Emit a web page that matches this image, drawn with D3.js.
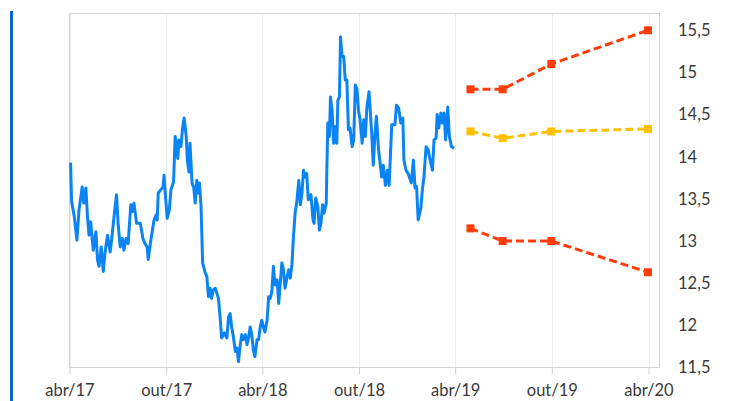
<!DOCTYPE html>
<html>
<head>
<meta charset="utf-8">
<script src="https://cdn.jsdelivr.net/npm/d3@7"></script>
<style>
  html, body { margin: 0; padding: 0; background: #fff; }
  svg { display: block; font-family: Lato, "Open Sans", sans-serif; }
</style>
</head>
<body>
<svg id="chart" width="731" height="401"></svg>
<script>
// Spot rate history (observed)
const spotDates = [
  "2017-04-03","2017-04-05","2017-04-10","2017-04-15","2017-04-19","2017-04-25","2017-04-28","2017-05-02","2017-05-05","2017-05-08",
  "2017-05-11","2017-05-16","2017-05-21","2017-05-24","2017-05-27","2017-05-31","2017-06-04","2017-06-07","2017-06-12","2017-06-17",
  "2017-06-21","2017-06-26","2017-06-29","2017-07-02","2017-07-06","2017-07-10","2017-07-13","2017-07-17","2017-07-21","2017-07-26",
  "2017-07-29","2017-08-01","2017-08-06","2017-08-13","2017-08-18","2017-08-22","2017-08-26","2017-08-28","2017-09-01","2017-09-04",
  "2017-09-08","2017-09-12","2017-09-14","2017-09-16","2017-09-21","2017-09-25","2017-09-27","2017-09-29","2017-10-03","2017-10-07",
  "2017-10-10","2017-10-15","2017-10-18","2017-10-21","2017-10-23","2017-10-25","2017-10-29","2017-11-01","2017-11-04","2017-11-08",
  "2017-11-10","2017-11-13","2017-11-15","2017-11-19","2017-11-22","2017-11-25","2017-11-28","2017-12-01","2017-12-03","2017-12-06",
  "2017-12-09","2017-12-14","2017-12-17","2017-12-20","2017-12-23","2017-12-26","2017-12-29","2018-01-02","2018-01-08","2018-01-11",
  "2018-01-14","2018-01-19","2018-01-24","2018-01-27","2018-01-30","2018-02-02","2018-02-05","2018-02-09","2018-02-12","2018-02-15",
  "2018-02-17","2018-02-21","2018-02-24","2018-02-28","2018-03-03","2018-03-06","2018-03-09","2018-03-12","2018-03-15","2018-03-18",
  "2018-03-22","2018-03-25","2018-03-28","2018-03-31","2018-04-03","2018-04-06","2018-04-10","2018-04-13","2018-04-16","2018-04-19",
  "2018-04-22","2018-04-25","2018-04-29","2018-05-02","2018-05-05","2018-05-08","2018-05-11","2018-05-14","2018-05-18","2018-05-21",
  "2018-05-24","2018-05-27","2018-05-30","2018-06-02","2018-06-05","2018-06-09","2018-06-12","2018-06-15","2018-06-18","2018-06-21",
  "2018-06-24","2018-06-27","2018-07-02","2018-07-06","2018-07-08","2018-07-11","2018-07-15","2018-07-18","2018-07-21","2018-07-24",
  "2018-07-27","2018-07-31","2018-08-01","2018-08-03","2018-08-06","2018-08-08","2018-08-11","2018-08-14","2018-08-17","2018-08-20",
  "2018-08-22","2018-08-25","2018-08-27","2018-08-30","2018-09-02","2018-09-05","2018-09-08","2018-09-11","2018-09-14","2018-09-18",
  "2018-09-21","2018-09-24","2018-09-27","2018-09-30","2018-10-03","2018-10-07","2018-10-10","2018-10-13","2018-10-16","2018-10-20",
  "2018-10-25","2018-10-28","2018-10-31","2018-11-03","2018-11-07","2018-11-13","2018-11-16","2018-11-20","2018-11-24","2018-11-27",
  "2018-12-02","2018-12-08","2018-12-11","2018-12-15","2018-12-19","2018-12-23","2018-12-25","2018-12-29","2019-01-02","2019-01-08",
  "2019-01-12","2019-01-15","2019-01-18","2019-01-21","2019-01-26","2019-01-29","2019-02-01","2019-02-05","2019-02-09","2019-02-12",
  "2019-02-17","2019-02-20","2019-02-24","2019-02-26","2019-03-01","2019-03-05","2019-03-08","2019-03-11","2019-03-14","2019-03-18",
  "2019-03-21","2019-03-25","2019-03-30"
];
const spotValues = [
  13.93,13.47,13.29,13.01,13.37,13.64,13.45,13.63,13.29,13.07,
  13.23,12.89,13.11,12.78,12.70,12.93,12.64,12.85,13.07,12.87,
  13.09,13.39,13.55,13.21,12.93,13.03,12.89,13.03,12.97,13.43,
  13.35,13.45,13.21,13.21,13.03,12.97,12.93,12.78,12.97,13.09,
  13.25,13.31,13.25,13.57,13.61,13.64,13.78,13.59,13.27,13.37,
  13.61,13.70,14.24,14.08,13.98,14.20,14.12,14.34,14.46,14.24,
  13.96,13.82,14.16,13.69,13.64,13.45,13.72,13.57,13.69,13.41,
  12.74,12.62,12.58,12.34,12.44,12.32,12.42,12.44,12.32,12.10,
  11.85,11.91,11.85,12.10,12.14,11.98,11.87,11.69,11.73,11.57,
  11.71,11.89,11.83,11.89,11.77,11.85,11.98,11.89,11.71,11.63,
  11.83,11.83,11.98,12.06,11.98,11.92,12.06,12.34,12.32,12.40,
  12.70,12.48,12.54,12.26,12.50,12.74,12.66,12.44,12.58,12.66,
  12.56,12.72,13.06,13.33,13.45,13.72,13.43,13.57,13.84,13.76,
  13.80,13.49,13.55,13.25,13.21,13.51,13.41,13.13,13.21,13.43,
  13.33,13.45,13.80,14.40,14.24,14.71,14.55,14.16,14.36,14.16,
  14.67,14.71,15.42,15.19,15.19,14.91,14.91,14.32,14.34,14.12,
  14.20,14.85,14.81,14.55,14.44,14.16,14.44,14.24,14.59,14.77,
  14.28,13.90,14.24,14.48,14.08,13.76,13.90,13.66,13.84,13.66,
  14.38,14.38,14.61,14.58,14.40,14.46,13.96,13.84,13.80,13.69,
  13.96,13.63,13.65,13.25,13.39,13.61,13.76,14.12,14.08,13.98,
  13.84,14.20,14.22,14.50,14.34,14.52,14.40,14.52,14.20,14.59,
  14.24,14.12,14.10
];

// Projection horizon and scenarios
const forecastDates = ["2019-04-30", "2019-06-30", "2019-09-30", "2020-03-31"];
const upperValues   = [14.80, 14.80, 15.10, 15.50];
const centralValues = [14.30, 14.22, 14.30, 14.33];
const lowerValues   = [13.15, 13.00, 13.00, 12.63];

// Axis ticks
const xTickDates  = ["2017-04-01", "2017-10-01", "2018-04-01", "2018-10-01", "2019-04-01", "2019-10-01", "2020-04-01"];
const xTickLabels = ["abr/17", "out/17", "abr/18", "out/18", "abr/19", "out/19", "abr/20"];
const yTickValues = [11.5, 12, 12.5, 13, 13.5, 14, 14.5, 15, 15.5];

const parse = d3.timeParse("%Y-%m-%d");
const svg = d3.select("#chart");

const box = { left: 69.5, right: 659.5, top: 13.5, bottom: 367.5 };

const x = d3.scaleTime()
  .domain([parse("2017-04-01"), parse("2020-04-01")])
  .range([69.5, 648.5]);
const y = d3.scaleLinear()
  .domain([11.5, 15.5])
  .range([367.5, 30.3]);

// Accent bar on the left
svg.append("rect")
  .attr("x", 10).attr("y", 11).attr("width", 3).attr("height", 390)
  .attr("fill", "#0a66d6");

const tickDates = xTickDates.map(parse);

// Vertical gridlines
svg.append("g")
  .selectAll("line")
  .data(tickDates)
  .join("line")
  .attr("x1", d => Math.round(x(d)) + 0.5)
  .attr("x2", d => Math.round(x(d)) + 0.5)
  .attr("y1", box.top)
  .attr("y2", box.bottom)
  .attr("stroke", "#ececec")
  .attr("stroke-width", 1);

// Plot frame
svg.append("rect")
  .attr("x", box.left).attr("y", box.top)
  .attr("width", box.right - box.left).attr("height", box.bottom - box.top)
  .attr("fill", "none")
  .attr("stroke", "#d4d4d4")
  .attr("stroke-width", 1);

// Bottom axis
const labelOf = new Map(xTickDates.map((d, i) => [d, xTickLabels[i]]));
const xAxis = d3.axisBottom(x)
  .tickValues(tickDates)
  .tickFormat(d => labelOf.get(d3.timeFormat("%Y-%m-%d")(d)))
  .tickSize(7)
  .tickPadding(10);
const gx = svg.append("g")
  .attr("transform", `translate(0,${box.bottom})`)
  .call(xAxis);
gx.select(".domain").remove();
gx.selectAll(".tick line").attr("stroke", "#d4d4d4");
gx.selectAll(".tick text")
  .attr("fill", "#3a3a3a")
  .style("font-size", "16.5px")
  .style("font-family", "Lato, 'Open Sans', sans-serif");

// Right value axis
const yAxis = d3.axisRight(y)
  .tickValues(yTickValues)
  .tickFormat(d => String(d).replace(".", ","))
  .tickSize(0)
  .tickPadding(0);
const gy = svg.append("g")
  .attr("transform", "translate(678,0)")
  .call(yAxis);
gy.select(".domain").remove();
gy.selectAll(".tick text")
  .attr("fill", "#3a3a3a")
  .style("font-size", "16.5px")
  .style("font-family", "Lato, 'Open Sans', sans-serif");

// Spot series
const spot = spotDates.map((d, i) => ({ date: parse(d), value: spotValues[i] }));
const line = d3.line().x(d => x(d.date)).y(d => y(d.value));

svg.append("path")
  .datum(spot)
  .attr("d", line)
  .attr("fill", "none")
  .attr("stroke", "#0a84f5")
  .attr("stroke-width", 3)
  .attr("stroke-linejoin", "round");

// Scenario series
const scenarios = [
  { values: upperValues,   color: "#ff3d0a" },
  { values: centralValues, color: "#ffc000" },
  { values: lowerValues,   color: "#ff3d0a" }
];

scenarios.forEach(s => {
  const pts = forecastDates.map((d, i) => ({ date: parse(d), value: s.values[i] }));
  svg.append("path")
    .datum(pts)
    .attr("d", line)
    .attr("fill", "none")
    .attr("stroke", s.color)
    .attr("stroke-width", 3)
    .attr("stroke-dasharray", "8,4");
  svg.append("g")
    .selectAll("rect")
    .data(pts)
    .join("rect")
    .attr("x", d => x(d.date) - 4)
    .attr("y", d => y(d.value) - 4)
    .attr("width", 8)
    .attr("height", 8)
    .attr("fill", s.color);
});
</script>
</body>
</html>
